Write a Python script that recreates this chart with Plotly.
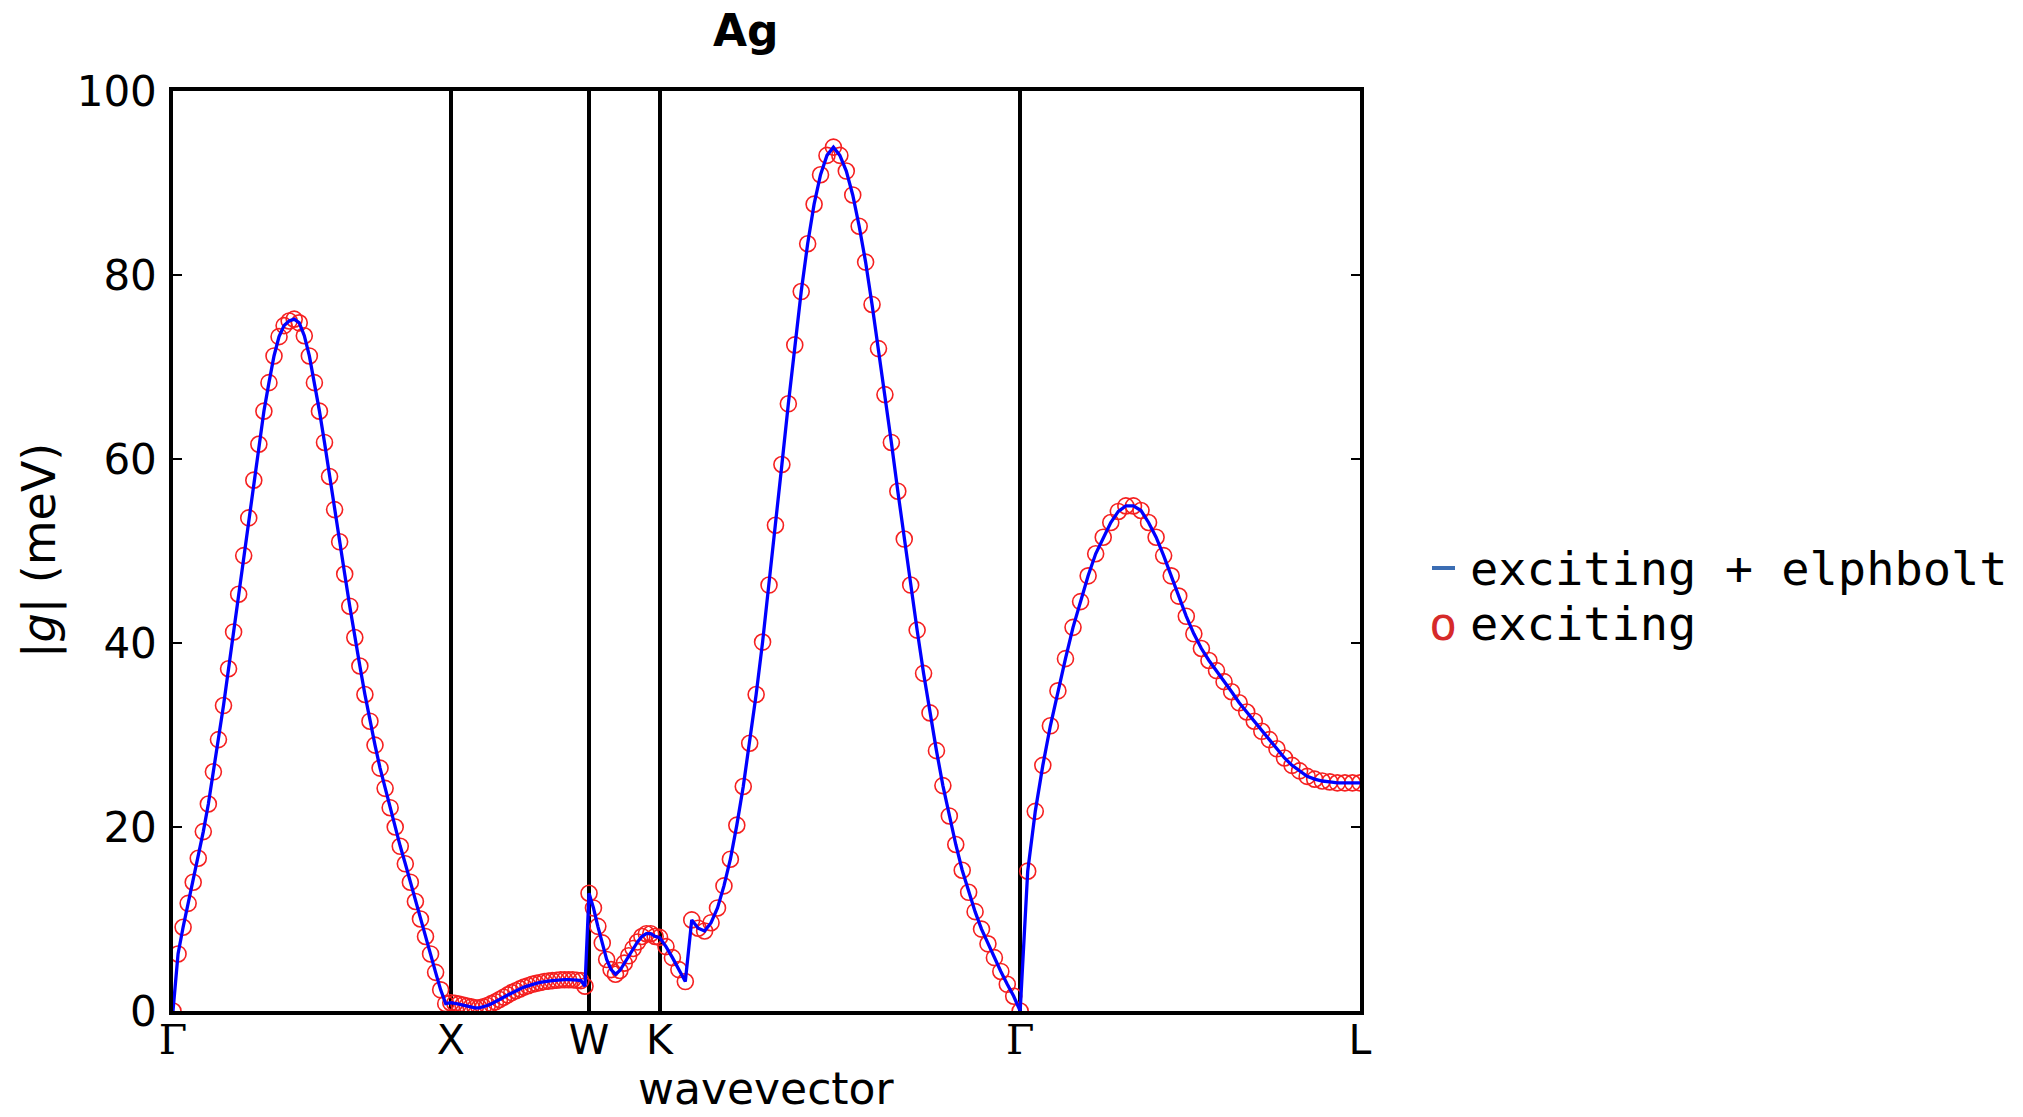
import numpy as np
import plotly.graph_objects as go

# High-symmetry points along the path (fractional path position)
sym_labels = ["Γ", "X", "W", "K", "Γ", "L"]
sym_pos = [0.0, 0.2340, 0.3505, 0.4099, 0.7137, 1.0]

# |g| (meV) sampled along each path segment
g_GX = [0.0, 6.2, 9.1, 11.7, 14.0, 16.6, 19.5, 22.5, 26.0, 29.5, 33.2, 37.2, 41.2, 45.3,
        49.5, 53.6, 57.7, 61.6, 65.2, 68.3, 71.2, 73.3, 74.5, 75.0, 75.2, 74.8, 73.4,
        71.2, 68.3, 65.2, 61.8, 58.1, 54.5, 51.0, 47.5, 44.0, 40.6, 37.5, 34.4, 31.5,
        28.9, 26.4, 24.2, 22.1, 20.0, 17.9, 16.0, 14.0, 11.9, 10.0, 8.1, 6.2, 4.2, 2.3, 0.8]
g_XW = [0.9, 0.85, 0.75, 0.65, 0.55, 0.45, 0.35, 0.35, 0.45, 0.6, 0.8, 1.0, 1.25, 1.5,
        1.75, 2.0, 2.2, 2.4, 2.6, 2.75, 2.9, 3.0, 3.1, 3.2, 3.25, 3.3, 3.35, 3.4, 3.4,
        3.4, 3.4, 3.35, 3.3, 2.7]
g_WK = [12.8, 11.2, 9.2, 7.4, 5.6, 4.5, 4.0, 4.4, 5.2, 6.0, 6.8, 7.5, 8.1, 8.4, 8.4, 8.1]
g_KG = [8.0, 7.0, 5.8, 4.5, 3.2, 9.9, 9.0, 8.7, 9.6, 11.2, 13.6, 16.5, 20.2, 24.4, 29.1,
        34.4, 40.1, 46.3, 52.8, 59.4, 66.0, 72.4, 78.2, 83.4, 87.7, 90.9, 93.0, 93.9,
        93.0, 91.3, 88.7, 85.3, 81.4, 76.8, 72.0, 67.0, 61.8, 56.5, 51.3, 46.3, 41.4,
        36.7, 32.4, 28.3, 24.5, 21.2, 18.1, 15.3, 12.9, 10.8, 8.9, 7.3, 5.8, 4.3, 2.9, 1.6]
g_GL = [0.0, 15.2, 21.7, 26.7, 31.0, 34.8, 38.3, 41.7, 44.5, 47.3, 49.7, 51.5, 53.1,
        54.3, 54.9, 54.9, 54.4, 53.1, 51.5, 49.5, 47.3, 45.1, 42.9, 41.0, 39.4, 38.1,
        37.0, 35.8, 34.7, 33.5, 32.5, 31.5, 30.4, 29.5, 28.5, 27.5, 26.7, 26.1, 25.5,
        25.2, 25.0, 24.9, 24.8, 24.8, 24.8, 24.8]

y_ticks = [0, 20, 40, 60, 80, 100]

segments = [g_GX, g_XW, g_WK, g_KG, g_GL]
kx, gy = [], []
for i, seg in enumerate(segments):
    last = i == len(segments) - 1
    xs = np.linspace(sym_pos[i], sym_pos[i + 1], len(seg), endpoint=last)
    kx.extend(xs.tolist())
    gy.extend(seg)

W, H = 2023, 1117
L_M, R_M, T_M, B_M = 173, 663, 91, 106
PW = W - L_M - R_M
PH = H - T_M - B_M

def px(xp):
    return (xp - L_M) / PW

def py(yp):
    return (H - B_M - yp) / PH

fig = go.Figure()
fig.add_trace(go.Scatter(
    x=kx, y=gy, mode="markers", name="exciting",
    marker=dict(symbol="circle-open", size=16, color="#f52020", line=dict(width=1.6, color="#f52020")),
    showlegend=False))
fig.add_trace(go.Scatter(
    x=kx, y=gy, mode="lines", name="exciting + elphbolt",
    line=dict(color="#0000ff", width=3.3), showlegend=False))

tick_text = ["<span style='font-family:DejaVu Serif'>Γ</span>" if s == "Γ" else s for s in sym_labels]

fig.update_layout(
    width=W, height=H,
    margin=dict(l=L_M, r=R_M, t=T_M, b=B_M, pad=0),
    paper_bgcolor="white", plot_bgcolor="white",
    font=dict(family="DejaVu Sans", size=42, color="black"),
    xaxis=dict(range=[0, 1], tickmode="array", tickvals=sym_pos, ticktext=tick_text,
               showgrid=True, gridcolor="black", gridwidth=3.5, zeroline=False,
               showline=True, linecolor="black", linewidth=3.5, mirror=True,
               ticks="", tickfont=dict(size=41), ticklabelstandoff=-10),
    yaxis=dict(range=[0, 100], tickmode="array", tickvals=y_ticks,
               showgrid=False, zeroline=False,
               showline=True, linecolor="black", linewidth=3.5, mirror="ticks",
               ticks="inside", ticklen=9, tickwidth=1.5, tickcolor="black",
               tickfont=dict(size=42), ticklabelstandoff=4),
    shapes=[
        dict(type="line", xref="paper", yref="paper",
             x0=px(1432), x1=px(1455), y0=py(568), y1=py(568),
             line=dict(color="#3b6db3", width=4)),
    ],
    annotations=[
        dict(text="<b>Ag</b>", x=px(746), y=py(31), xref="paper", yref="paper",
             showarrow=False, font=dict(size=44, family="DejaVu Sans"),
             xanchor="center", yanchor="middle"),
        dict(text="wavevector", x=0.5, y=py(1088), xref="paper", yref="paper",
             showarrow=False, font=dict(size=44), xanchor="center", yanchor="middle",
             borderpad=0),
        dict(text="|<i>g</i>| (meV)", x=px(39), y=0.5, xref="paper", yref="paper",
             showarrow=False, font=dict(size=46), textangle=-90,
             xanchor="center", yanchor="middle"),
        dict(text="exciting + elphbolt", x=px(1468), y=py(568), xref="paper", yref="paper",
             showarrow=False, font=dict(size=47, family="DejaVu Sans Mono"),
             xanchor="left", yanchor="middle"),
        dict(text="o", x=px(1443), y=py(624), xref="paper", yref="paper",
             showarrow=False, font=dict(size=47, family="DejaVu Sans Mono", color="#d62a2a"),
             xanchor="center", yanchor="middle"),
        dict(text="exciting", x=px(1468), y=py(624), xref="paper", yref="paper",
             showarrow=False, font=dict(size=47, family="DejaVu Sans Mono"),
             xanchor="left", yanchor="middle"),
    ],
)

fig.write_html("out.html")
